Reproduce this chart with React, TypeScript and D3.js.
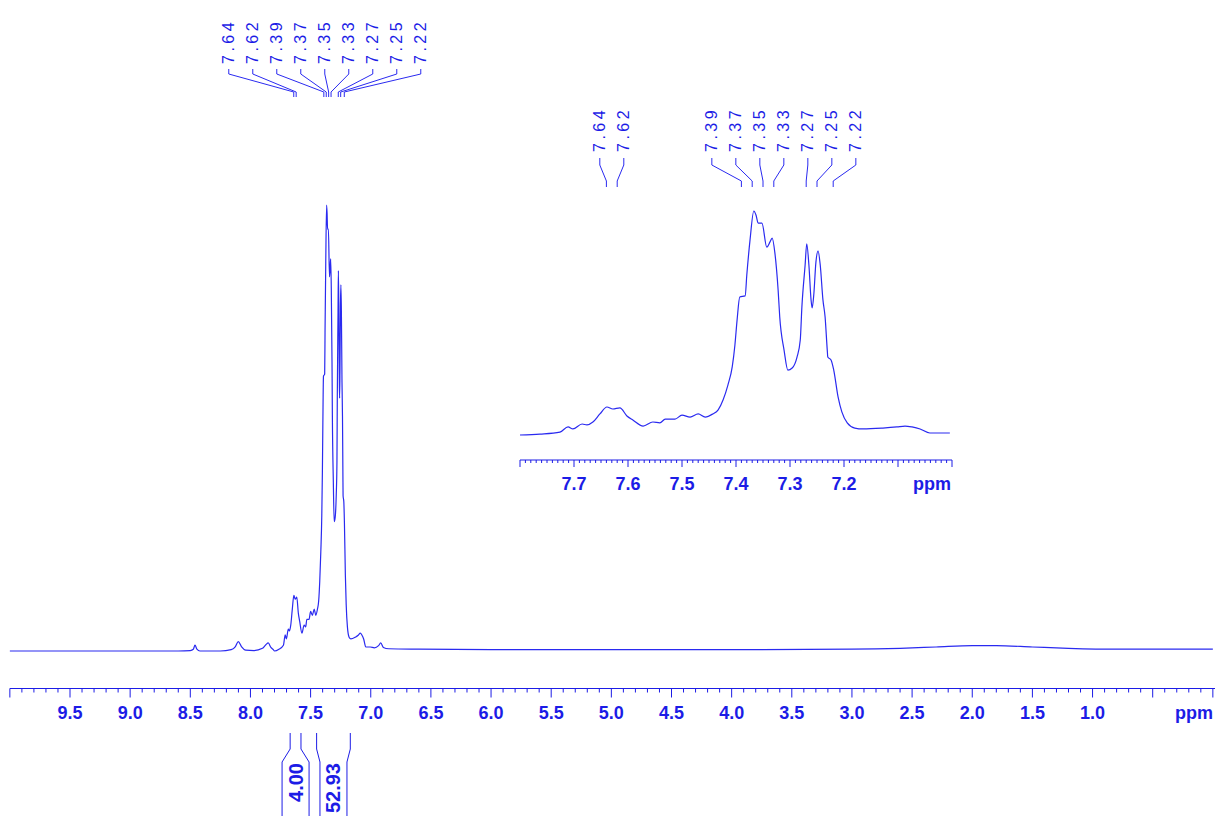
import React from "react";
import * as d3 from "d3";

// 1H NMR trace, chemical shift (ppm) and relative intensity (tallest peak = 1)
const downfieldPpm = [10.0, 9.0, 8.6, 8.5, 8.475, 8.461, 8.445, 8.42, 8.25, 8.16, 8.125, 8.101, 8.075, 8.04, 7.97, 7.9, 7.872, 7.852, 7.83, 7.81];
const downfieldIntensity = [0, 0, 0, 0.001, 0.004, 0.013, 0.004, 0, 0, 0.003, 0.01, 0.021, 0.01, 0.002, 0.001, 0.006, 0.014, 0.018, 0.008, 0.003];

const aromaticPpm = [
  7.8, 7.763, 7.726, 7.711, 7.702, 7.685, 7.676, 7.665, 7.652, 7.639, 7.628, 7.615, 7.602, 7.591, 7.572, 7.554,
  7.541, 7.531, 7.513, 7.5, 7.485, 7.47, 7.457, 7.443, 7.433, 7.424, 7.415, 7.407, 7.402, 7.398, 7.393, 7.383,
  7.38, 7.374, 7.367, 7.363, 7.359, 7.352, 7.343, 7.337, 7.333, 7.328, 7.322, 7.319, 7.311, 7.304, 7.296, 7.287,
  7.281, 7.278, 7.272, 7.269, 7.265, 7.261, 7.259, 7.256, 7.252, 7.248, 7.244, 7.239, 7.235, 7.231, 7.23, 7.224,
  7.219, 7.211, 7.204, 7.194, 7.18, 7.165, 7.128, 7.102, 7.087, 7.074, 7.059, 7.041, 7.004,
];
const aromaticIntensity = [
  0, 0.004, 0.013, 0.036, 0.027, 0.049, 0.045, 0.058, 0.094, 0.125, 0.116, 0.121, 0.085, 0.067, 0.04, 0.058,
  0.054, 0.071, 0.071, 0.089, 0.08, 0.094, 0.08, 0.094, 0.112, 0.156, 0.223, 0.304, 0.402, 0.513, 0.616, 0.621,
  0.714, 0.871, 1.0, 0.982, 0.946, 0.946, 0.839, 0.862, 0.879, 0.813, 0.647, 0.527, 0.379, 0.29, 0.299, 0.348,
  0.424, 0.571, 0.759, 0.853, 0.759, 0.603, 0.567, 0.625, 0.772, 0.821, 0.759, 0.603, 0.527, 0.379, 0.348, 0.335,
  0.29, 0.17, 0.103, 0.054, 0.031, 0.027, 0.031, 0.036, 0.04, 0.036, 0.027, 0.009, 0.009,
];

const upfieldPpm = [6.97, 6.935, 6.917, 6.895, 6.85, 6.6, 6.0, 5.0, 4.0, 3.0, 2.6, 2.3, 2.0, 1.8, 1.5, 1.2, 0.8, 0.4, 0.0];
const upfieldIntensity = [0.007, 0.012, 0.018, 0.008, 0.005, 0.004, 0.003, 0.003, 0.003, 0.004, 0.006, 0.009, 0.012, 0.012, 0.009, 0.006, 0.004, 0.004, 0.004];

// picked peaks
const peakShifts = [7.64, 7.62, 7.39, 7.37, 7.35, 7.33, 7.27, 7.25, 7.22];

// integration regions
const integralStart = [7.67, 7.45];
const integralEnd = [7.58, 7.17];
const integralValues = ["4.00", "52.93"];

// labelled axis ticks
const mainTickLabels = [9.5, 9.0, 8.5, 8.0, 7.5, 7.0, 6.5, 6.0, 5.5, 5.0, 4.5, 4.0, 3.5, 3.0, 2.5, 2.0, 1.5, 1.0];
const insetTickLabels = [7.7, 7.6, 7.5, 7.4, 7.3, 7.2];

const LINE = "#2a2af0";
const INK = "#1c1ce6";
const FONT = "'Liberation Sans', Arial, Helvetica, sans-serif";

const ppmAll = [...downfieldPpm, ...aromaticPpm, ...upfieldPpm];
const intAll = [...downfieldIntensity, ...aromaticIntensity, ...upfieldIntensity];

// spread labels so neighbours keep a minimum gap, each cluster centred on its peaks
function spreadLabels(xs: number[], gap: number): number[] {
  let clusters = xs.map((x, i) => ({ start: i, end: i, center: x }));
  let merged = true;
  while (merged) {
    merged = false;
    for (let k = 0; k < clusters.length - 1; k++) {
      const a = clusters[k];
      const b = clusters[k + 1];
      const aRight = a.center + ((a.end - a.start) * gap) / 2;
      const bLeft = b.center - ((b.end - b.start) * gap) / 2;
      if (bLeft - aRight < gap) {
        const idx = d3.range(a.start, b.end + 1);
        clusters.splice(k, 2, { start: a.start, end: b.end, center: d3.mean(idx, (i) => xs[i]) as number });
        merged = true;
        break;
      }
    }
  }
  const out: number[] = [];
  clusters.forEach((c) => {
    const n = c.end - c.start;
    for (let i = c.start; i <= c.end; i++) out[i] = c.center + (i - c.start - n / 2) * gap;
  });
  return out;
}

type LeaderRows = { text: number; y0: number; y1: number; y2: number; y3: number };

function PeakLabels({ x, rows }: { x: d3.ScaleLinear<number, number>; rows: LeaderRows }) {
  const peakX = peakShifts.map((p) => x(p));
  const labelX = spreadLabels(peakX, 24);
  return (
    <g>
      {peakShifts.map((p, i) => (
        <g key={p}>
          <text
            transform={`translate(${labelX[i]},${rows.text}) rotate(-90)`}
            textAnchor="start"
            dominantBaseline="central"
            fontFamily={FONT}
            fontSize={16}
            letterSpacing={3.5}
            fill={INK}
          >
            {p.toFixed(2)}
          </text>
          <polyline
            points={`${labelX[i]},${rows.y0} ${labelX[i]},${rows.y1} ${peakX[i]},${rows.y2} ${peakX[i]},${rows.y3}`}
            fill="none"
            stroke={LINE}
            strokeWidth={1}
          />
        </g>
      ))}
    </g>
  );
}

export default function App() {
  // main spectrum scales
  const xMain = d3.scaleLinear().domain([10, 0]).range([9.85, 1212.85]);
  const yMain = d3.scaleLinear().domain([0, 1]).range([651, 205]);
  // expanded aromatic region
  const xInset = d3.scaleLinear().domain([7.8, 7.0]).range([520, 952]);
  const yInset = d3.scaleLinear().domain([0, 1]).range([435, 211]);

  const idx = d3.range(ppmAll.length);
  const mainPath = d3
    .line<number>()
    .x((i) => xMain(ppmAll[i]))
    .y((i) => yMain(intAll[i]))
    .curve(d3.curveMonotoneX)(idx) as string;

  const insetIdx = idx.filter((i) => ppmAll[i] <= 7.8 && ppmAll[i] >= 7.0);
  const insetPath = d3
    .line<number>()
    .x((i) => xInset(ppmAll[i]))
    .y((i) => yInset(intAll[i]))
    .curve(d3.curveMonotoneX)(insetIdx) as string;

  const mainAxisY = 688.5;
  const mainMinor = d3.range(0, 101).map((i) => +(10 - i * 0.1).toFixed(2));
  const insetAxisY = 460;
  const insetMinor = d3.range(0, 81).map((i) => +(7.8 - i * 0.01).toFixed(3));

  const isMajor = (v: number, step: number) => Math.abs(v / step - Math.round(v / step)) < 1e-6;

  return (
    <svg
      width={1215}
      height={816}
      style={{ position: "absolute", left: 0, top: 0, background: "#fff" }}
    >
      {/* main trace */}
      <path d={mainPath} fill="none" stroke={LINE} strokeWidth={1.2} strokeLinejoin="round" />

      {/* main axis */}
      <line x1={xMain(10)} x2={1215} y1={mainAxisY} y2={mainAxisY} stroke={INK} strokeWidth={1} />
      {mainMinor.map((v) => (
        <line
          key={`mt${v}`}
          x1={xMain(v)}
          x2={xMain(v)}
          y1={mainAxisY}
          y2={mainAxisY + (isMajor(v, 0.5) ? 9 : 4)}
          stroke={INK}
          strokeWidth={1}
        />
      ))}
      {mainTickLabels.map((v) => (
        <text
          key={`ml${v}`}
          x={xMain(v)}
          y={719}
          textAnchor="middle"
          fontFamily={FONT}
          fontWeight="bold"
          fontSize={18}
          fill={INK}
        >
          {v.toFixed(1)}
        </text>
      ))}
      <text x={1213} y={719} textAnchor="end" fontFamily={FONT} fontWeight="bold" fontSize={18} fill={INK}>
        ppm
      </text>

      {/* integrals */}
      {integralValues.map((val, i) => {
        const a = xMain(integralStart[i]);
        const b = xMain(integralEnd[i]);
        const c = (a + b) / 2;
        const l = c - 13.5;
        const r = c + 13.5;
        return (
          <g key={val}>
            <polyline points={`${a},733 ${a},749 ${l},762 ${l},816`} fill="none" stroke={INK} strokeWidth={1} />
            <polyline points={`${b},733 ${b},749 ${r},762 ${r},816`} fill="none" stroke={INK} strokeWidth={1} />
            <text
              transform={`translate(${c},763) rotate(-90)`}
              textAnchor="end"
              dominantBaseline="central"
              fontFamily={FONT}
              fontWeight="bold"
              fontSize={20}
              fill={INK}
            >
              {val}
            </text>
          </g>
        );
      })}

      {/* peak labels over the full spectrum */}
      <PeakLabels x={xMain} rows={{ text: 64, y0: 69, y1: 74, y2: 92, y3: 97 }} />

      {/* inset: expanded 7.0 - 7.8 ppm */}
      <path d={insetPath} fill="none" stroke={LINE} strokeWidth={1.2} strokeLinejoin="round" />
      <line x1={xInset(7.8)} x2={xInset(7.0)} y1={insetAxisY} y2={insetAxisY} stroke={INK} strokeWidth={1} />
      {insetMinor.map((v) => (
        <line
          key={`it${v}`}
          x1={xInset(v)}
          x2={xInset(v)}
          y1={insetAxisY}
          y2={insetAxisY + (isMajor(v, 0.1) ? 7 : 3)}
          stroke={INK}
          strokeWidth={1}
        />
      ))}
      {insetTickLabels.map((v) => (
        <text
          key={`il${v}`}
          x={xInset(v)}
          y={490}
          textAnchor="middle"
          fontFamily={FONT}
          fontWeight="bold"
          fontSize={18}
          fill={INK}
        >
          {v.toFixed(1)}
        </text>
      ))}
      <text x={951} y={490} textAnchor="end" fontFamily={FONT} fontWeight="bold" fontSize={18} fill={INK}>
        ppm
      </text>
      <PeakLabels x={xInset} rows={{ text: 152, y0: 158, y1: 165, y2: 181, y3: 187 }} />
    </svg>
  );
}
